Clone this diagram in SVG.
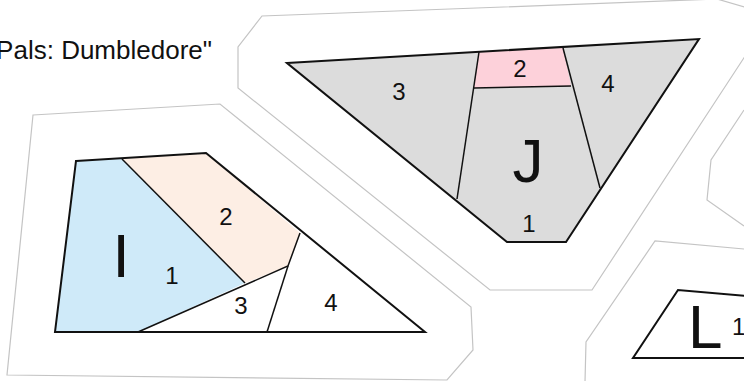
<svg xmlns="http://www.w3.org/2000/svg" width="744" height="381" viewBox="0 0 744 381">
<style>
.outline{fill:none;stroke:#c4c4c4;stroke-width:1.2;stroke-linejoin:miter}
.edge{stroke:#111;stroke-width:2;stroke-linejoin:miter}
.thin{stroke:#111;stroke-width:1.5;fill:none}
text{font-family:"Liberation Sans",Arial,sans-serif;fill:#111}
.num{font-size:24px;text-anchor:middle}
.big{font-size:62px;text-anchor:middle}
.blue{fill:#cfeaf9}
.peach{fill:#fdeee4}
.gray{fill:#dcdcdc}
.pink{fill:#fdd1da}
.white{fill:#ffffff}
</style>
<rect width="744" height="381" fill="#ffffff"/>
<g id="outlines">
<polygon class="outline" points="33,115 220,104 471,307 473,350 447,380 7,375"/>
<polygon class="outline" points="238,88 238,47 262,16 717,-1 772,15 592,290 490,290"/>
<polyline class="outline" points="744,110 711,160 707,200 744,226"/>
<polyline class="outline" points="744,249 655,241 586,342 585,382"/>
</g>
<text x="212" y="59" font-size="26" text-anchor="end">Pals: Dumbledore"</text>
<g id="node-I">
<polygon class="blue" points="76,161 122,159 245,283 138,332 55,332"/>
<polygon class="peach" points="122,159 206,153 300,233 288,266 245,283"/>
<polygon class="white" points="138,332 288,266 267,332"/>
<polygon class="white" points="288,266 300,233 425,332 267,332"/>
<polyline class="thin" points="122,159 245,283"/>
<polyline class="thin" points="138,332 288,266 300,233"/>
<polyline class="thin" points="288,266 267,332"/>
<polygon class="edge" fill="none" points="76,161 206,153 425,332 55,332"/>
<text class="big" x="121" y="277">I</text>
<text class="num" x="172" y="284">1</text>
<text class="num" x="226" y="225">2</text>
<text class="num" x="241" y="314">3</text>
<text class="num" x="331" y="311">4</text>
</g>
<g id="node-J">
<polygon class="gray" points="287,63 699,39 566,242 507,242"/>
<polygon class="pink" points="479,52 563,48 571,86 474,88"/>
<polyline class="thin" points="479,52 457,199"/>
<polyline class="thin" points="474,88 571,86"/>
<polyline class="thin" points="563,48 600,188"/>
<polygon class="edge" fill="none" points="287,63 699,39 566,242 507,242"/>
<text class="big" x="528" y="182">J</text>
<text class="num" x="399" y="100">3</text>
<text class="num" x="520" y="77">2</text>
<text class="num" x="608" y="92">4</text>
<text class="num" x="529" y="232">1</text>
</g>
<g id="node-L">
<polygon class="edge" fill="#ffffff" points="760,297 678,290 633,358 760,358"/>
<text x="688" y="348" font-size="62">L</text>
<text x="732" y="335" font-size="24">1</text>
</g>
</svg>
